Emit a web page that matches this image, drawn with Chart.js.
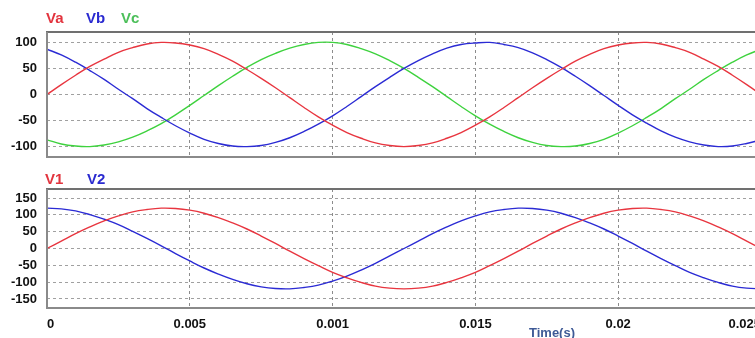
<!DOCTYPE html>
<html>
<head>
<meta charset="utf-8">
<script src="https://cdn.jsdelivr.net/npm/chart.js@4/dist/chart.umd.min.js"></script>
<style>
html,body{margin:0;padding:0;width:755px;height:338px;overflow:hidden;background:#fff;font-family:"Liberation Sans",Arial,sans-serif;}
.box{position:absolute;left:0;width:800px;}
.lg{position:absolute;font-weight:bold;font-size:15px;line-height:15px;}
</style>
</head>
<body>
<div class="box" style="top:0;height:165px"><canvas id="c1" width="800" height="165"></canvas></div>
<div class="box" style="top:170px;height:168px"><canvas id="c2" width="800" height="168"></canvas></div>
<div class="lg" style="left:46px;top:10px;color:#e2343e">Va</div>
<div class="lg" style="left:86px;top:10px;color:#2a2ad0">Vb</div>
<div class="lg" style="left:121px;top:10px;color:#4cbf5a">Vc</div>
<div class="lg" style="left:45px;top:171px;color:#e2343e">V1</div>
<div class="lg" style="left:87px;top:171px;color:#2a2ad0">V2</div>
<div class="lg" style="left:529px;top:326px;font-size:13px;line-height:13px;color:#3e5a96">Time(s)</div>
<script>
// time samples (s)
const time = [0,0.0005,0.001,0.0015,0.002,0.0025,0.003,0.0035,0.004,0.0045,0.005,0.0055,0.006,0.0065,0.007,0.0075,0.008,0.0085,0.009,0.0095,0.01,0.0105,0.011,0.0115,0.012,0.0125,0.013,0.0135,0.014,0.0145,0.015,0.0155,0.016,0.0165,0.017,0.0175,0.018,0.0185,0.019,0.0195,0.02,0.0205,0.021,0.0215,0.022,0.0225,0.023,0.0235,0.024,0.0245,0.025];
const Va = [0,19,37,54,68,81,90,97,100,99,95,88,77,64,48,31,13,-6,-25,-43,-59,-73,-84,-93,-98,-100,-98,-93,-84,-73,-59,-43,-25,-6,13,31,48,64,77,88,95,99,100,97,90,81,68,54,37,19,0];
const Vb = [87,76,62,46,29,10,-8,-27,-44,-60,-74,-86,-94,-99,-100,-98,-92,-83,-71,-57,-41,-23,-4,15,33,50,65,78,89,96,99,100,96,90,80,67,52,35,17,-2,-21,-39,-55,-70,-82,-91,-97,-100,-99,-94,-87];
const Vc = [-87,-95,-99,-100,-97,-91,-82,-70,-56,-39,-21,-2,17,35,52,67,79,89,96,100,100,96,88,78,65,50,33,15,-4,-23,-41,-57,-71,-83,-92,-98,-100,-99,-94,-86,-74,-60,-44,-27,-8,10,29,46,62,76,87];
const V1 = [0,22,44,64,82,97,109,116,120,119,114,105,92,76,58,37,15,-8,-30,-51,-71,-87,-101,-112,-118,-120,-118,-112,-101,-87,-71,-51,-30,-8,15,37,58,76,92,105,114,119,120,116,109,97,82,64,44,22,0];
const V2 = [120,118,112,101,87,71,51,30,8,-15,-37,-58,-76,-92,-105,-114,-119,-120,-116,-109,-97,-82,-64,-44,-22,0,22,44,64,82,97,109,116,120,119,114,105,92,76,58,37,15,-8,-30,-51,-71,-87,-101,-112,-118,-120];
// tick positions and labels
const xTicks = [0,0.005,0.01,0.015,0.02,0.025];
const xLabels = ["0","0.005","0.001","0.015","0.02","0.025"];
const yTicksTop = [-100,-50,0,50,100];
const yTicksBottom = [-150,-100,-50,0,50,100,150];

const RED = '#e8353f', BLUE = '#2b2bd4', GREEN = '#3ed23e';
const pts = arr => arr.map((v,i)=>({x:time[i], y:v}));
const ds = (arr,color) => ({data:pts(arr), borderColor:color, borderWidth:1.4, pointRadius:0, tension:0.4, fill:false});

const frame = {
  id:'frame',
  afterDraw(chart){
    const a = chart.chartArea, c = chart.ctx;
    c.save();
    c.lineWidth = 2;
    c.strokeStyle = '#707070';
    c.beginPath(); c.moveTo(a.left-1, a.top); c.lineTo(a.right+5, a.top); c.stroke();
    c.strokeStyle = '#8a8a8a';
    c.beginPath(); c.moveTo(a.left, a.top); c.lineTo(a.left, a.bottom); c.stroke();
    c.beginPath(); c.moveTo(a.left-1, a.bottom); c.lineTo(a.right+5, a.bottom); c.stroke();
    c.restore();
  }
};
const FONT = {family:'"Liberation Sans", Arial, sans-serif', size:13, weight:'bold'};

function makeOpts(yMin,yMax,yTicks,showX,padTop,padBottom){
  return {
    responsive:false, animation:false,
    layout:{padding:{left:0,right:39,top:padTop,bottom:padBottom}},
    plugins:{legend:{display:false},tooltip:{enabled:false}},
    scales:{
      x:{type:'linear', min:0, max:0.025,
         afterBuildTicks:s=>{s.ticks = xTicks.map(v=>({value:v}));},
         afterFit:s=>{ s.height = showX ? 30 : 0; s.paddingLeft = 0; s.paddingRight = 0; },
         ticks:{display:showX, padding:9, maxRotation:0, autoSkip:false, color:'#111', font:FONT, align:'inner',
                callback:(v)=>{const i = xTicks.findIndex(t=>Math.abs(t-v)<1e-9); return i>=0?xLabels[i]:'';}},
         grid:{color:(ctx)=> ctx.tick && ctx.tick.value===0 ? 'rgba(0,0,0,0)' : '#8c8c8c', lineWidth:1, drawTicks:false},
         border:{display:false, dash:[3,3]}},
      y:{min:yMin, max:yMax,
         afterBuildTicks:s=>{s.ticks = yTicks.map(v=>({value:v}));},
         afterFit:s=>{ s.width = 47; s.paddingTop = 0; s.paddingBottom = 0; },
         ticks:{padding:10, color:'#111', autoSkip:false, font:FONT},
         grid:{color:'#a0a0a0', lineWidth:1, drawTicks:false},
         border:{display:false, dash:[3,3]}}
    }
  };
}

new Chart(document.getElementById('c1'), {
  type:'line',
  data:{datasets:[ds(Va,RED), ds(Vb,BLUE), ds(Vc,GREEN)]},
  options:makeOpts(-120,120,yTicksTop,false,32,8),
  plugins:[frame]
});
new Chart(document.getElementById('c2'), {
  type:'line',
  data:{datasets:[ds(V1,RED), ds(V2,BLUE)]},
  options:makeOpts(-177,177,yTicksBottom,true,19,0),
  plugins:[frame]
});
</script>
</body>
</html>
